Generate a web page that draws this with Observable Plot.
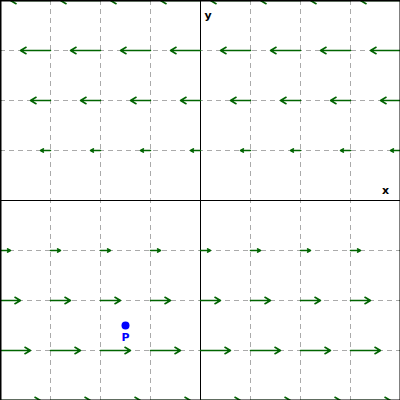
<!DOCTYPE html>
<html><head>
<script src="https://cdn.jsdelivr.net/npm/d3@7"></script>
<script src="https://cdn.jsdelivr.net/npm/@observablehq/plot@0.6"></script>
<style>body{margin:0;background:#fff}</style>
</head><body>
<div id="c"></div>
<script>
const gridX = [-4,-3,-2,-1,0,1,2,3,4];
const gridY = [-4,-3,-2,-1,1,2,3,4];
const scale = 0.2; // field (-y, 0) scaled
const pointP = [{x:-1.5, y:-2.5, label:"P"}];
const axisLabels = [{x:3.7, y:0.2, t:"x"}, {x:0.15, y:3.7, t:"y"}];
const ticks = [-3,-2,-1,1,2,3];

const arrows = [];
for (const y of gridY) for (const x of gridX) arrows.push({x1:x, y1:y, x2:x - scale*y, y2:y});

const chart = Plot.plot({
  width:400, height:400, margin:0,
  x:{domain:[-4,4], axis:null},
  y:{domain:[-4,4], axis:null},
  marks:[
    Plot.ruleX(ticks, {stroke:"#aaa", strokeDasharray:"5,4", strokeWidth:1}),
    Plot.ruleY(ticks, {stroke:"#aaa", strokeDasharray:"5,4", strokeWidth:1}),
    Plot.ruleX([0], {stroke:"black", strokeWidth:1}),
    Plot.ruleY([0], {stroke:"black", strokeWidth:1}),
    Plot.arrow(arrows, {x1:"x1", y1:"y1", x2:"x2", y2:"y2", stroke:"#006400", strokeWidth:1.6, headLength:6, clip:true}),
    Plot.frame({stroke:"black", strokeWidth:2}),
    Plot.dot(pointP, {x:"x", y:"y", r:4, fill:"blue"}),
    Plot.text(pointP, {x:"x", y:"y", text:"label", dy:12, fill:"blue", fontWeight:"bold", fontSize:11, fontFamily:"DejaVu Sans"}),
    Plot.text(axisLabels, {x:"x", y:"y", text:"t", fontWeight:"bold", fontSize:11, fill:"black", fontFamily:"DejaVu Sans"})
  ]
});
document.getElementById("c").appendChild(chart);
</script>
</body></html>
